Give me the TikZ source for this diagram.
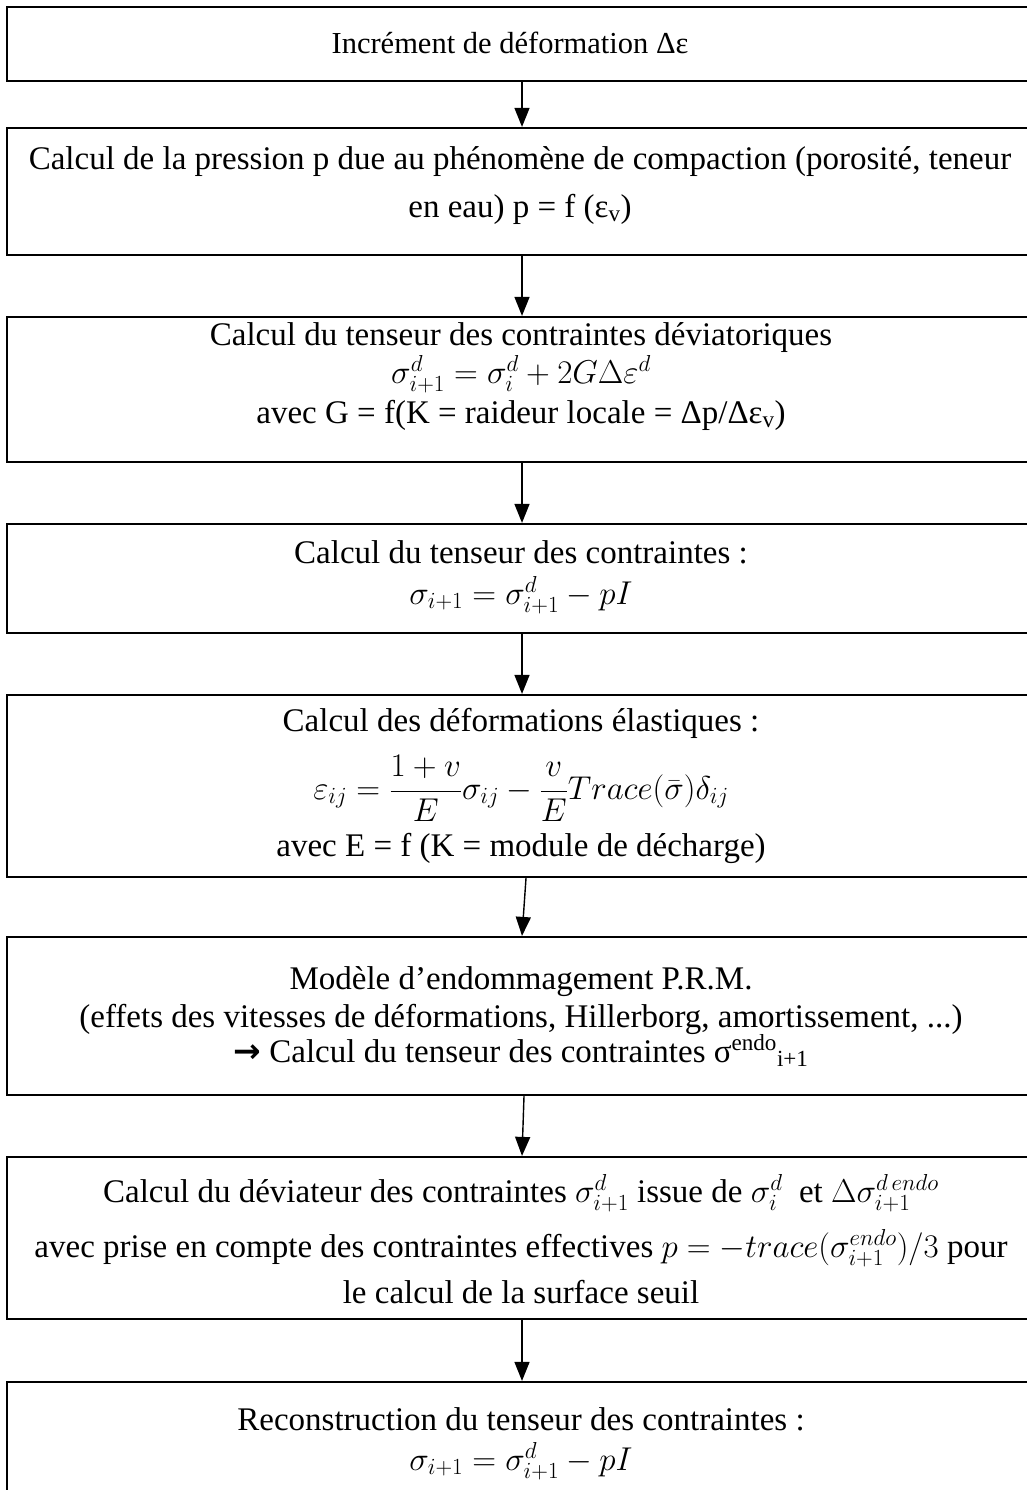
\RequirePackage{fix-cm}
\documentclass[tikz,border=0pt]{standalone}
\usepackage{fontspec}
\setmainfont{Liberation Serif}
\newfontfamily\arrowfont{DejaVu Sans}
\usetikzlibrary{arrows.meta}
\begin{document}
\begin{tikzpicture}[x=1pt,y=-1pt,
  box/.style={draw, line width=2.2pt, minimum width=1030pt, inner sep=0pt},
  txt/.style={anchor=base, inner sep=0pt, font=\fontsize{33}{39}\selectfont},
  flow/.style={-{Triangle[width=15pt,length=19pt]}, line width=1.4pt}]
\useasboundingbox (0,0) rectangle (1027,1490);

% boxes
\node[box, minimum height=74pt]  (b1) at (522,44) {};
\node[box, minimum height=127pt] (b2) at (522,191.5) {};
\node[box, minimum height=145pt] (b3) at (522,389.5) {};
\node[box, minimum height=109pt] (b4) at (522,578.5) {};
\node[box, minimum height=182pt] (b5) at (522,786) {};
\node[box, minimum height=158pt] (b6) at (522,1016) {};
\node[box, minimum height=162pt] (b7) at (522,1238) {};
\node[box, minimum height=148pt] (b8) at (522,1456) {};

% texts
\node[txt, font=\fontsize{30.5}{36}\selectfont] (t1) at (510,54) {Incrément de déformation Δε};

\node[txt] (t2a) at (520,170) {Calcul de la pression p due au phénomène de compaction (porosité, teneur};
\node[txt] (t2b) at (520,217) {en eau) p = f (ε\textsubscript{v})};

\node[txt] (t3a) at (521,345) {Calcul du tenseur des contraintes déviatoriques};
\node[txt] (t3b) at (521,383) {$\sigma^d_{i+1} = \sigma^d_i + 2G\Delta\varepsilon^d$};
\node[txt] (t3c) at (521,423) {avec G = f(K = raideur locale = Δp/Δε\textsubscript{v})};

\node[txt] (t4a) at (521,563) {Calcul du tenseur des contraintes :};
\node[txt] (t4b) at (521,604) {$\sigma_{i+1} = \sigma^d_{i+1} - pI$};

\node[txt] (t5a) at (521,731) {Calcul des déformations élastiques :};
\node[txt] (t5b) at (521,799) {$\displaystyle \varepsilon_{ij} = \frac{1+v}{E}\sigma_{ij} - \frac{v}{E}Trace(\bar{\sigma})\delta_{ij}$};
\node[txt] (t5c) at (521,856) {avec E = f (K = module de décharge)};

\node[txt] (t6a) at (521,989) {Modèle d’endommagement P.R.M.};
\node[txt] (t6b) at (521,1027) {(effets des vitesses de déformations, Hillerborg, amortissement, ...)};
\node[txt] (t6c) at (521,1062) {{\arrowfont\bfseries →} Calcul du tenseur des contraintes σ\textsuperscript{endo}\textsubscript{i+1}};

\node[txt] (t7a) at (521,1202) {Calcul du déviateur des contraintes $\sigma^d_{i+1}$ issue de $\sigma^d_i$\ \ et $\Delta\sigma^{d\,endo}_{i+1}$};
\node[txt] (t7b) at (521,1257) {avec prise en compte des contraintes effectives $p = -trace\bigl(\sigma^{endo}_{i+1}\bigr)/3$ pour};
\node[txt] (t7c) at (521,1303) {le calcul de la surface seuil};

\node[txt] (t8a) at (521,1430) {Reconstruction du tenseur des contraintes :};
\node[txt] (t8b) at (521,1470) {$\sigma_{i+1} = \sigma^d_{i+1} - pI$};

% connectors
\coordinate (s5) at ([xshift=4pt]b5.south);
\coordinate (s6) at ([xshift=2pt]b6.south);
\draw[flow] (b1.south) -- (b2.north);
\draw[flow] (b2.south) -- (b3.north);
\draw[flow] (b3.south) -- (b4.north);
\draw[flow] (b4.south) -- (b5.north);
\draw[flow] (s5) -- (b6.north);
\draw[flow] (s6) -- (b7.north);
\draw[flow] (b7.south) -- (b8.north);
\end{tikzpicture}
\end{document}
